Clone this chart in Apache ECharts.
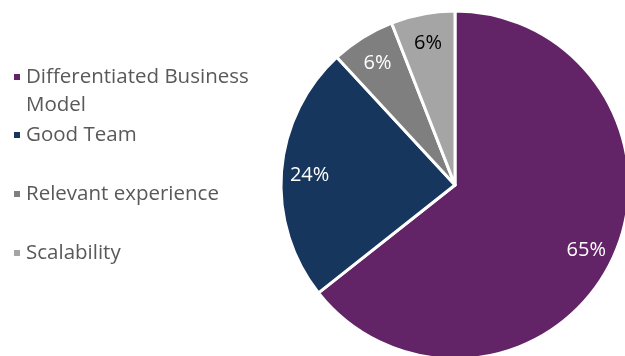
<!DOCTYPE html>
<html>
<head>
<meta charset="utf-8">
<script src="https://cdn.jsdelivr.net/npm/echarts@6/dist/echarts.min.js"></script>
<style>
  html, body { margin: 0; padding: 0; background: #fff; }
  #chart { width: 625px; height: 356px; }
</style>
</head>
<body>
<div id="chart"></div>
<script>
// Reasons cited, share of responses (%)
const categories = ['Differentiated Business Model', 'Good Team', 'Relevant experience', 'Scalability'];
const shares = [65, 24, 6, 6];
const colors = ['#622466', '#17365D', '#7F7F7F', '#A5A5A5'];
const labelColors = ['#FFFFFF', '#FFFFFF', '#FFFFFF', '#000000'];

// Legend text: first entry wraps onto two lines
const legendText = {
  'Differentiated Business Model': '\nDifferentiated Business\nModel',
  'Good Team': 'Good Team',
  'Relevant experience': 'Relevant experience',
  'Scalability': 'Scalability'
};
const legendTops = [35, 121, 180, 239];

const FONT = '"Open Sans", "Liberation Sans", sans-serif';
const CX = 455, CY = 185, R = 174;

const chart = echarts.init(document.getElementById('chart'), null, { renderer: 'canvas' });

const legends = categories.map((name, i) => ({
  data: [name],
  orient: 'vertical',
  left: 12,
  top: legendTops[i],
  padding: 0,
  icon: 'rect',
  itemWidth: 8,
  itemHeight: 8,
  selectedMode: false,
  formatter: n => legendText[n],
  textStyle: { fontFamily: FONT, fontSize: 20.5, color: '#595959', lineHeight: 28 }
}));

chart.setOption({
  animation: false,
  legend: legends,
  series: [{
    type: 'pie',
    center: [CX, CY],
    radius: [0, R],
    startAngle: 90,
    clockwise: true,
    avoidLabelOverlap: false,
    silent: true,
    itemStyle: { borderColor: '#FFFFFF', borderWidth: 3 },
    label: {
      show: true,
      position: 'inside',
      formatter: '{c}%',
      fontFamily: FONT,
      fontSize: 20
    },
    // push the inside labels out toward the rim
    labelLayout: function (p) {
      const lx = p.labelRect.x + p.labelRect.width / 2;
      const ly = p.labelRect.y + p.labelRect.height / 2;
      const k = 0.62;
      return { dx: (lx - CX) * k, dy: (ly - CY) * k + 2 };
    },
    data: categories.map((name, i) => ({
      name: name,
      value: shares[i],
      itemStyle: { color: colors[i] },
      label: { color: labelColors[i] }
    }))
  }]
});
</script>
</body>
</html>
